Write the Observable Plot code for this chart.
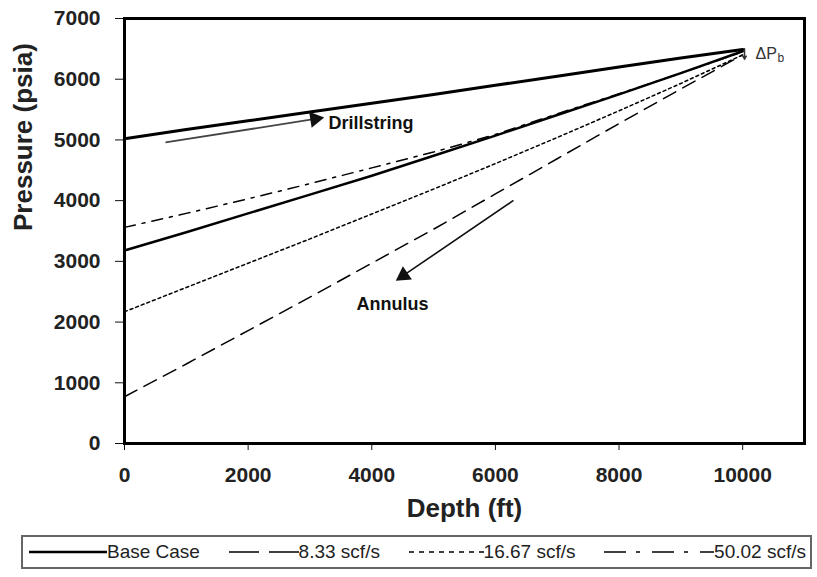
<!DOCTYPE html>
<html><head><meta charset="utf-8">
<script src="https://cdn.jsdelivr.net/npm/d3@7"></script>
<script src="https://cdn.jsdelivr.net/npm/@observablehq/plot@0.6"></script>
<style>
body{margin:0;background:#fff;font-family:"Liberation Sans",Arial,sans-serif;}
#chart{position:relative;width:817px;height:577px;}
#legend{position:absolute;left:21px;top:535px;width:791px;height:34px;border:2px solid #666;box-sizing:border-box;
  display:flex;align-items:center;justify-content:space-between;padding:0 4px 0 6px;font-size:19px;color:#222;white-space:nowrap;}
#legend .item{display:flex;align-items:center;}
#legend svg{display:block;}
</style></head><body>
<div id="chart"></div>
<script>
// ---- data ----
const depth = [0, 1000, 2000, 3000, 4000, 5000, 6000, 7000, 8000, 9000, 10000];
const drillstring = [5020, 5170, 5315, 5460, 5605, 5750, 5900, 6050, 6200, 6350, 6490];
const baseCase   = [3180, 3480, 3790, 4100, 4410, 4740, 5070, 5410, 5750, 6100, 6460];
const q833       = [770, 1310, 1860, 2410, 2970, 3530, 4110, 4690, 5270, 5840, 6400];
const q1667      = [2170, 2570, 2970, 3370, 3780, 4190, 4610, 5040, 5480, 5930, 6400];
const q5002      = [3560, 3790, 4030, 4280, 4540, 4800, 5090, 5430, 5760, 6100, 6450];
const xTicks = [0, 2000, 4000, 6000, 8000, 10000];
const yTicks = [0, 1000, 2000, 3000, 4000, 5000, 6000, 7000];
const legendLabels = ["Base Case", "8.33 scf/s", "16.67 scf/s", "50.02 scf/s"];
// annotation arrows (data coordinates)
const arrowX1 = [663, 6292];
const arrowY1 = [4959, 4003];
const arrowX2 = [3138, 4465];
const arrowY2 = [5354, 2735];
const drillLabelX = [3300];
const drillLabelY = [5272];
const annLabelX = [4335];
const annLabelY = [2290];
const dpX = [10207];
const dpY = [6425];
const dpMarkX = [10030];
const dpMarkY1 = [6500];
const dpMarkY2 = [6330];

const styles = {
  base:  {dash: null, w: 2.5},
  q833:  {dash: "14,8", w: 1.5},
  q1667: {dash: "3,3", w: 1.5},
  q5002: {dash: "11,7,3,7", w: 1.5}
};
const mk = (vals) => depth.map((d, i) => ({depth: d, p: vals[i]}));

const plot = Plot.plot({
  width: 817,
  height: 530,
  marginLeft: 124,
  marginRight: 13,
  marginTop: 18,
  marginBottom: 87,
  style: {fontFamily: '"Liberation Sans", Arial, sans-serif', color: "#111", background: "#fff"},
  x: {domain: [0, 11000], ticks: xTicks, tickSize: 7, tickPadding: 17, tickFormat: d3.format("d"), label: null},
  y: {domain: [0, 7000], ticks: yTicks, tickSize: 9, tickPadding: 15, tickFormat: d3.format("d"), label: null},
  marks: [
    Plot.axisX({ticks: xTicks, tickSize: 7, tickPadding: 17, tickFormat: d3.format("d"), fontSize: 21, fontWeight: "bold", fill: "#222", label: null}),
    Plot.axisY({ticks: yTicks, tickSize: 9, tickPadding: 15, tickFormat: d3.format("d"), fontSize: 21, fontWeight: "bold", fill: "#222", label: null}),
    Plot.line(mk(drillstring), {x: "depth", y: "p", stroke: "#000", strokeWidth: 3}),
    Plot.line(mk(q5002), {x: "depth", y: "p", stroke: "#000", strokeWidth: styles.q5002.w, strokeDasharray: styles.q5002.dash}),
    Plot.line(mk(q1667), {x: "depth", y: "p", stroke: "#000", strokeWidth: styles.q1667.w, strokeDasharray: styles.q1667.dash}),
    Plot.line(mk(q833), {x: "depth", y: "p", stroke: "#000", strokeWidth: styles.q833.w, strokeDasharray: styles.q833.dash}),
    Plot.line(mk(baseCase), {x: "depth", y: "p", stroke: "#000", strokeWidth: styles.base.w}),
    // arrow shafts
    Plot.link([0], {
      x1: i => arrowX1[i], y1: i => arrowY1[i], x2: i => arrowX2[i], y2: i => arrowY2[i],
      stroke: "#444", strokeWidth: 1.8
    }),
    Plot.link([1], {
      x1: i => arrowX1[i], y1: i => arrowY1[i], x2: i => arrowX2[i], y2: i => arrowY2[i],
      stroke: "#111", strokeWidth: 1.6
    }),
    // filled arrow heads
    Plot.dot([0], {x: i => arrowX2[i], y: i => arrowY2[i], symbol: "triangle", r: 6, rotate: 81,
      dx: -3.5, dy: 0.6, fill: "#111", stroke: "none"}),
    Plot.dot([1], {x: i => arrowX2[i], y: i => arrowY2[i], symbol: "triangle", r: 6, rotate: 236,
      dx: 3, dy: -2, fill: "#111", stroke: "none"}),
    Plot.arrow([0], {
      x1: i => dpMarkX[i], y1: i => dpMarkY1[i], x2: i => dpMarkX[i], y2: i => dpMarkY2[i],
      stroke: "#333", strokeWidth: 1.5, headLength: 6
    }),
    Plot.text(["Drillstring"], {x: drillLabelX, y: drillLabelY, text: d => d, textAnchor: "start",
      fontSize: 18, fontWeight: "bold", fill: "#111"}),
    Plot.text(["Annulus"], {x: annLabelX, y: annLabelY, text: d => d, textAnchor: "middle",
      fontSize: 18, fontWeight: "bold", fill: "#111"}),
    Plot.text(["\u0394P"], {x: dpX, y: dpY, text: d => d, textAnchor: "start", fontSize: 16, fill: "#333"}),
    Plot.text(["b"], {x: dpX, y: dpY, text: d => d, textAnchor: "start", dx: 22, dy: 5, fontSize: 12, fill: "#333"}),
    Plot.text(["Pressure (psia)"], {frameAnchor: "left", text: d => d, rotate: -90, dx: -101, fontSize: 26, fontWeight: "bold", fill: "#222"}),
    Plot.text(["Depth (ft)"], {frameAnchor: "bottom", text: d => d, dy: 73, fontSize: 26, fontWeight: "bold", fill: "#222"}),
    Plot.frame({stroke: "#000", strokeWidth: 3})
  ]
});
const chart = document.getElementById("chart");
chart.appendChild(plot);

// legend (HTML below the SVG)
const legend = document.createElement("div");
legend.id = "legend";
const sampleDefs = [
  {w: 78, dash: null, sw: 2.5},
  {w: 70, dash: "30,10", sw: 1.5},
  {w: 75, dash: "5,5", sw: 1.5},
  {w: 110, dash: "22,10,4,12", sw: 1.5}
];
legendLabels.forEach((lab, i) => {
  const it = document.createElement("div");
  it.className = "item";
  const s = sampleDefs[i];
  it.innerHTML = `<svg width="${s.w}" height="10"><line x1="0" x2="${s.w}" y1="5" y2="5" stroke="#000" stroke-width="${s.sw}" ${s.dash ? `stroke-dasharray="${s.dash}"` : ""}/></svg><span>${lab}</span>`;
  legend.appendChild(it);
});
chart.appendChild(legend);
</script>
</body></html>
